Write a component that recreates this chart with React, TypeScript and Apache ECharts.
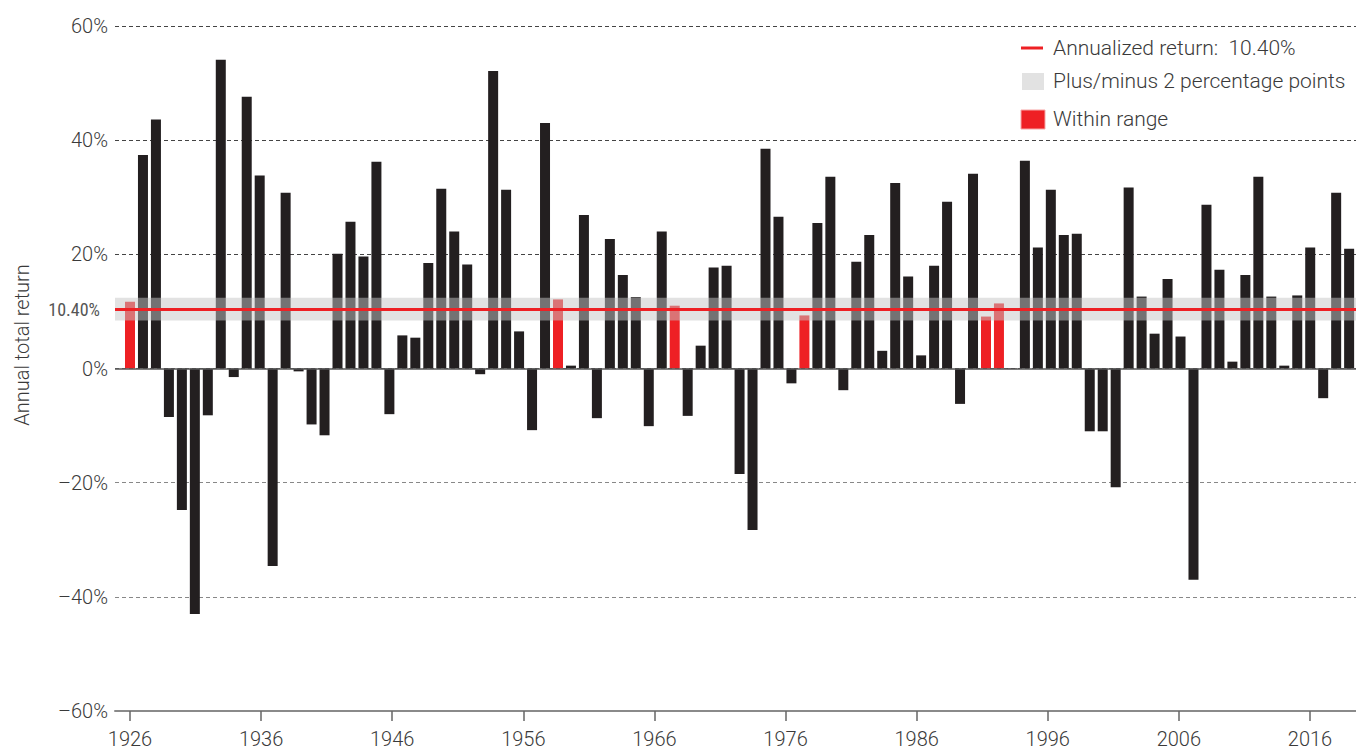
import { useEffect, useRef } from "react";
import * as echarts from "echarts";

const years = [
  1926, 1927, 1928, 1929, 1930, 1931, 1932, 1933, 1934, 1935,
  1936, 1937, 1938, 1939, 1940, 1941, 1942, 1943, 1944, 1945,
  1946, 1947, 1948, 1949, 1950, 1951, 1952, 1953, 1954, 1955,
  1956, 1957, 1958, 1959, 1960, 1961, 1962, 1963, 1964, 1965,
  1966, 1967, 1968, 1969, 1970, 1971, 1972, 1973, 1974, 1975,
  1976, 1977, 1978, 1979, 1980, 1981, 1982, 1983, 1984, 1985,
  1986, 1987, 1988, 1989, 1990, 1991, 1992, 1993, 1994, 1995,
  1996, 1997, 1998, 1999, 2000, 2001, 2002, 2003, 2004, 2005,
  2006, 2007, 2008, 2009, 2010, 2011, 2012, 2013, 2014, 2015,
  2016, 2017, 2018, 2019, 2020,
];

const annualReturns = [
  11.7, 37.4, 43.6, -8.5, -24.8, -43.0, -8.2, 54.1, -1.5, 47.6,
  33.8, -34.6, 30.8, -0.5, -9.8, -11.7, 20.1, 25.7, 19.6, 36.2,
  -8.0, 5.8, 5.4, 18.5, 31.5, 24.0, 18.2, -1.0, 52.1, 31.3,
  6.5, -10.8, 43.0, 12.1, 0.5, 26.9, -8.7, 22.7, 16.4, 12.5,
  -10.1, 24.0, 11.0, -8.3, 4.0, 17.7, 18.0, -18.5, -28.3, 38.5,
  26.6, -2.6, 9.3, 25.5, 33.6, -3.8, 18.7, 23.4, 3.1, 32.5,
  16.1, 2.3, 18.0, 29.2, -6.2, 34.1, 9.1, 11.4, -0.1, 36.4,
  21.2, 31.3, 23.4, 23.6, -11.0, -11.0, -20.8, 31.7, 12.6, 6.1,
  15.7, 5.6, -37.0, 28.7, 17.3, 1.2, 16.4, 33.6, 12.6, 0.5,
  12.8, 21.2, -5.2, 30.8, 21.0,
];

const xLabelYears = [1926, 1936, 1946, 1956, 1966, 1976, 1986, 1996, 2006, 2016];
const yTicks = [-60, -40, -20, 0, 20, 40, 60];
const annualized = 10.4;
const bandHalfWidth = 2;

const legendLabels = [
  `Annualized return:  ${annualized.toFixed(2)}%`,
  "Plus/minus 2 percentage points",
  "Within range",
];
const yAxisTitle = "Annual total return";

const RED = "#ee2024";
const BLACK = "#231f20";
const TEXT = "#3a3a3a";
const FONT = 'Roboto, "Liberation Sans", sans-serif';

export default function App() {
  const ref = useRef<HTMLDivElement>(null);

  useEffect(() => {
    if (!ref.current) return;
    const chart = echarts.init(ref.current, undefined, { renderer: "svg" });
    const lo = annualized - bandHalfWidth;
    const hi = annualized + bandHalfWidth;

    const barData = years.map((y, i) => {
      const v = annualReturns[i];
      const inRange = v >= lo && v <= hi;
      return { value: [y, v], itemStyle: { color: inRange ? RED : BLACK } };
    });

    const fmtPct = (v: number) => (v < 0 ? "\u2013" + Math.abs(v) : String(v)) + "%";

    const legendText = (text: string, y: number) => ({
      type: "text",
      x: 1053,
      y,
      style: { text, verticalAlign: "middle", fontSize: 21, fontFamily: FONT, fontWeight: 300, fill: TEXT },
    });

    const option: any = {
      animation: false,
      grid: { left: 115, right: 0, top: 26, bottom: 41 },
      xAxis: [
        { type: "value", min: 1924.8435, max: 2020.53, show: false },
        {
          type: "value",
          min: 1924.856,
          max: 2019.51,
          position: "bottom",
          axisLine: { show: true, onZero: false, lineStyle: { color: "#8a8a8a", width: 2 } },
          axisTick: { show: true, customValues: xLabelYears, length: 10, lineStyle: { color: "#666", width: 1.5 } },
          axisLabel: {
            customValues: xLabelYears,
            formatter: (v: number) => String(v),
            fontSize: 20,
            fontFamily: FONT,
            fontWeight: 300,
            color: TEXT,
            margin: 18,
          },
          splitLine: { show: false },
        },
      ],
      yAxis: {
        type: "value",
        min: yTicks[0],
        max: yTicks[yTicks.length - 1],
        interval: 20,
        axisLine: { show: false },
        axisTick: { show: false },
        axisLabel: {
          formatter: fmtPct,
          fontSize: 20,
          fontFamily: FONT,
          fontWeight: 300,
          color: TEXT,
          margin: 7,
        },
        splitLine: {
          show: true,
          lineStyle: {
            color: ["#888", "#888", "#888", "#666", "#444", "#444", "#444"],
            type: [4, 3],
            width: 1,
          },
        },
      },
      series: [
        {
          type: "bar",
          xAxisIndex: 0,
          barWidth: 10,
          data: barData,
          z: 2,
          markArea: {
            silent: true,
            z: 3,
            itemStyle: { color: "rgba(197,197,197,0.5)" },
            data: [[{ yAxis: lo }, { yAxis: hi }]],
          },
          markLine: {
            silent: true,
            z: 5,
            symbol: ["none", "none"],
            data: [
              {
                yAxis: 0,
                lineStyle: { color: "#555", width: 1.5, type: "solid" },
                label: { show: false },
              },
              {
                yAxis: annualized,
                lineStyle: { color: RED, width: 3, type: "solid" },
                label: {
                  show: true,
                  position: "start",
                  distance: 15,
                  formatter: `${annualized.toFixed(2)}%`,
                  fontSize: 18,
                  fontWeight: "normal",
                  fontFamily: '"Liberation Sans Narrow", "Roboto Condensed", "Liberation Sans", sans-serif',
                  color: "#555",
                },
              },
            ],
          },
        },
      ],
      graphic: [
        {
          type: "text",
          x: 22,
          y: 345,
          rotation: Math.PI / 2,
          style: {
            text: yAxisTitle,
            align: "center",
            verticalAlign: "middle",
            fontSize: 20,
            fontFamily: FONT,
            fontWeight: 300,
            fill: TEXT,
          },
        },
        {
          type: "line",
          shape: { x1: 1021, y1: 48, x2: 1043, y2: 48 },
          style: { stroke: RED, lineWidth: 3 },
        },
        legendText(legendLabels[0], 48),
        {
          type: "rect",
          shape: { x: 1022, y: 73, width: 22, height: 17 },
          style: { fill: "#e2e2e2" },
        },
        legendText(legendLabels[1], 81),
        {
          type: "rect",
          shape: { x: 1021, y: 110, width: 24, height: 19 },
          style: { fill: RED, stroke: "#f6a5a5", lineWidth: 1 },
        },
        legendText(legendLabels[2], 119),
      ],
    };

    chart.setOption(option);
    return () => chart.dispose();
  }, []);

  return (
    <div
      ref={ref}
      style={{ position: "fixed", left: 0, top: 0, width: 1356, height: 752, background: "#fff" }}
    />
  );
}
